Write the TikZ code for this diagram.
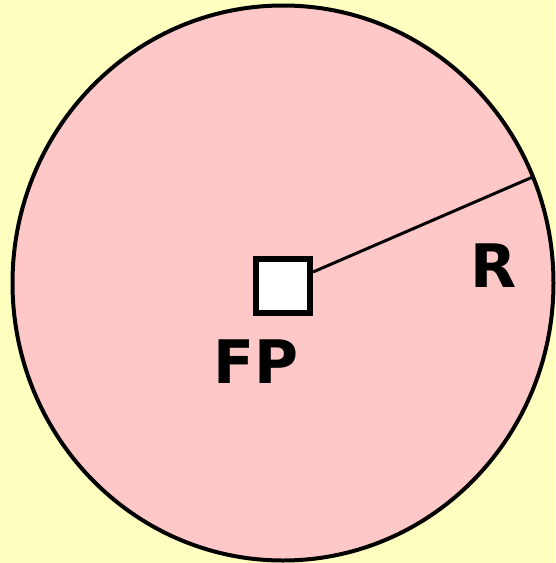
\documentclass[tikz,border=0pt]{standalone}
\usepackage{fontspec}
\setmainfont{DejaVu Sans}
\usetikzlibrary{shapes.geometric, positioning, calc}

\definecolor{bgyellow}{RGB}{255,255,192}
\definecolor{zonepink}{RGB}{255,200,200}

\begin{document}
\begin{tikzpicture}[
  x=1pt, y=-1pt,
  zone/.style={ellipse, draw, line width=4pt, fill=zonepink, minimum width=541pt, minimum height=555pt, inner sep=0pt, outer sep=0pt},
  fixpoint/.style={rectangle, draw, line width=6pt, fill=white, minimum size=54pt, inner sep=0pt},
  radius/.style={line width=3pt},
  lbl/.style={font=\fontsize{60}{60}\selectfont\bfseries, inner sep=0pt}
]

% -------------------------
% BACKGROUND
% -------------------------
\fill[bgyellow] (0,0) rectangle (555,563);
\useasboundingbox (0,0) rectangle (555,563);

% -------------------------
% ZONE AND FIXED POINT
% -------------------------
\node[zone] (zone) at (283,283) {};
\node[fixpoint] (fp) at (283,286) {};

% Radius
\draw[radius] (fp.east |- 0,272) -- (zone.23);

% Labels
\node[lbl] (fplabel) at (256,362) {FP};
\node[lbl] (rlabel) at (494,266) {R};

\end{tikzpicture}
\end{document}
